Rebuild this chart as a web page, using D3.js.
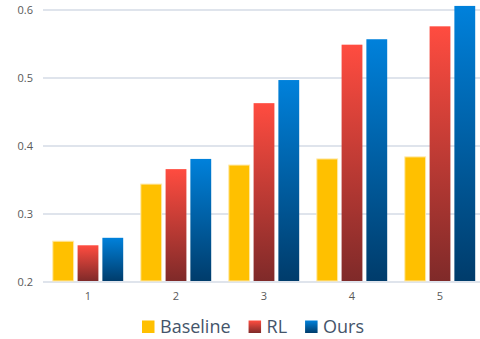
<!DOCTYPE html>
<html>
<head>
<meta charset="utf-8">
<script src="https://cdn.jsdelivr.net/npm/d3@7"></script>
<style>
  html, body { margin: 0; padding: 0; background: #ffffff; }
  svg { display: block; font-family: "Open Sans", "Noto Sans", sans-serif; }
</style>
</head>
<body>
<svg id="chart" width="480" height="339"></svg>
<script>
// Categories and series values
const categories = ["1", "2", "3", "4", "5"];
const seriesNames = ["Baseline", "RL", "Ours"];
const baseline = [0.260, 0.344, 0.372, 0.381, 0.384];
const rl       = [0.254, 0.366, 0.463, 0.549, 0.576];
const ours     = [0.265, 0.381, 0.497, 0.557, 0.606];
const yTicks   = [0.2, 0.3, 0.4, 0.5, 0.6];

const seriesValues = [baseline, rl, ours];

const svg = d3.select("#chart");
const W = 480, H = 339;
const margin = { top: 10, right: -4, bottom: 57, left: 44 };

const x0 = d3.scaleBand()
  .domain(categories)
  .range([margin.left, W - margin.right])
  .paddingInner(0.2)
  .paddingOuter(0.1);

const x1 = d3.scaleBand()
  .domain(seriesNames)
  .range([0, x0.bandwidth()])
  .paddingInner(0.16);

const y = d3.scaleLinear()
  .domain([0.2, 0.6])
  .range([H - margin.bottom, margin.top]);

// Vertical gradients per bar
const defs = svg.append("defs");
function grad(id, top, bottom) {
  const g = defs.append("linearGradient")
    .attr("id", id).attr("x1", 0).attr("y1", 0).attr("x2", 0).attr("y2", 1);
  g.append("stop").attr("offset", "0%").attr("stop-color", top);
  g.append("stop").attr("offset", "100%").attr("stop-color", bottom);
}
grad("gRed", "#ff4c40", "#7f2a29");
grad("gBlue", "#0081db", "#003c6b");

const fills = { "Baseline": "#ffc000", "RL": "url(#gRed)", "Ours": "url(#gBlue)" };

// Gridlines
const yAxis = d3.axisLeft(y).tickValues(yTicks).tickSize(0).tickPadding(11)
  .tickFormat(d3.format(".1f"));

svg.append("g")
  .selectAll("line")
  .data(yTicks)
  .join("line")
  .attr("x1", margin.left - 1)
  .attr("x2", W)
  .attr("y1", d => y(d))
  .attr("y2", d => y(d))
  .attr("stroke", "#dfe4ec")
  .attr("stroke-width", 2);

const gy = svg.append("g")
  .attr("transform", `translate(${margin.left},0)`)
  .call(yAxis);
gy.select(".domain").remove();
gy.selectAll("text")
  .attr("fill", "#595959")
  .attr("font-size", 11)
  .attr("font-family", "'Open Sans', sans-serif");

// Bars
const rows = categories.map((c, i) => ({
  cat: c,
  vals: seriesNames.map((s, k) => ({ s, v: seriesValues[k][i] }))
}));

const groups = svg.append("g")
  .selectAll("g")
  .data(rows)
  .join("g")
  .attr("transform", d => `translate(${x0(d.cat)},0)`);

groups.selectAll("rect")
  .data(d => d.vals)
  .join("rect")
  .attr("x", d => x1(d.s))
  .attr("width", x1.bandwidth())
  .attr("y", d => y(d.v))
  .attr("height", d => y(0.2) - y(d.v) - 1)
  .attr("fill", d => fills[d.s])
  .attr("stroke", d => d.s === "Baseline" ? "#ffe9a8" : "none")
  .attr("stroke-width", d => d.s === "Baseline" ? 1 : 0);

// X axis labels
const xAxis = d3.axisBottom(x0).tickSize(0).tickPadding(10);
const gx = svg.append("g")
  .attr("transform", `translate(0,${y(0.2)})`)
  .call(xAxis);
gx.select(".domain").remove();
gx.selectAll("text")
  .attr("fill", "#595959")
  .attr("font-size", 11)
  .attr("font-family", "'Open Sans', sans-serif");

// Legend
const legend = svg.append("g").attr("transform", "translate(0,333)");
let lx = 142;
seriesNames.forEach(name => {
  const item = legend.append("g").attr("transform", `translate(${lx},0)`);
  item.append("rect")
    .attr("x", 0).attr("y", -12.5)
    .attr("width", 12.5).attr("height", 12.5)
    .attr("fill", fills[name]);
  const t = item.append("text")
    .attr("x", 18).attr("y", 0)
    .attr("fill", "#44546a")
    .attr("font-size", 18)
    .text(name);
  lx += 18 + t.node().getComputedTextLength() + 18;
});
</script>
</body>
</html>
